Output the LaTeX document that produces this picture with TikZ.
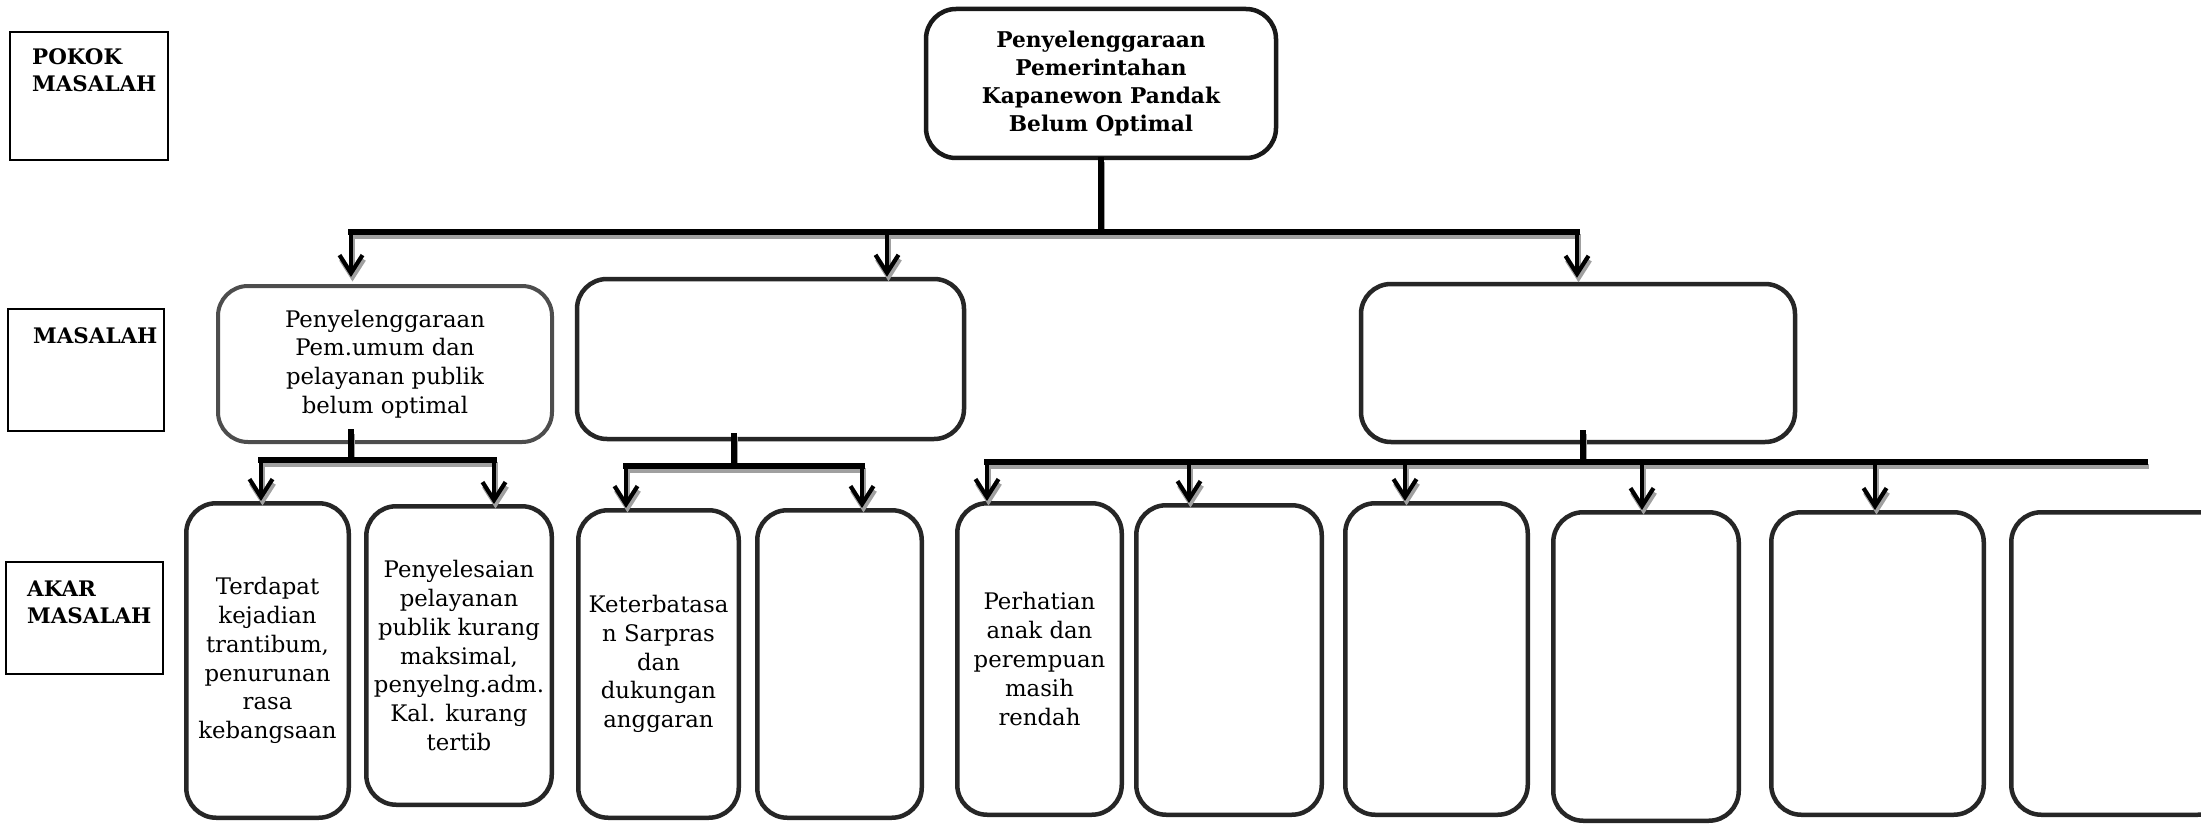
\documentclass[tikz,border=0pt]{standalone}
\usepackage{fontspec}
\setmainfont{DejaVu Serif}
\usetikzlibrary{arrows.meta}
\definecolor{edge}{HTML}{262626}
\definecolor{edgesoft}{HTML}{4D4D4D}
\definecolor{shade}{HTML}{A0A0A0}
\tikzset{
  frame/.style={draw=black, line width=2pt, inner sep=0pt},
  tag/.style={font=\fontsize{21.4}{27}\selectfont\bfseries, align=left, inner sep=0pt, anchor=base west},
  card/.style={draw=edge, line width=4.5pt, rounded corners=30pt, inner sep=0pt, align=center,
               font=\fontsize{22.8}{28.8}\selectfont},
  ink/.style={draw=black},
  link/.style={ink, line width=5.5pt, line cap=rect},
  arrowlink/.style={link, line width=4.2pt, -{Straight Barb[length=18pt,width=23pt]}},
}
% every connector of the tree; drawn once as a grey shadow and once in black
\newcommand\treelinks{%
  \draw[link] (root.south) -- (root.south |- h0L);
  \draw[link] (h0L) -- (h0R);
  \draw[arrowlink, shorten >=7pt] (h0L) -- (h0L |- m1.north);
  \draw[arrowlink] (h0M) -- (h0M |- m2.north);
  \draw[arrowlink, shorten >=4pt] (h0R) -- (h0R |- m3.north);
  \draw[link] (h1M |- m1.south) ++(0,-12) -- (h1M);
  \draw[link] (h1L) -- (h1R);
  \draw[arrowlink] (h1L) -- (h1L |- a1.north);
  \draw[arrowlink] (h1R) -- (h1R |- a2.north);
  \draw[link] (h2M |- m2.south) ++(0,-6) -- (h2M);
  \draw[link] (h2L) -- (h2R);
  \draw[arrowlink] (h2L) -- (h2L |- a3.north);
  \draw[arrowlink] (h2R) -- (h2R |- a4.north);
  \draw[link] (h3M |- m3.south) ++(0,-12) -- (h3M);
  \draw[link] (h3L) -- (h3R);
  \draw[arrowlink] (h3L) -- (h3L |- a5.north);
  \draw[arrowlink] (h3b) -- (h3b |- a6.north);
  \draw[arrowlink] (h3c) -- (h3c |- a7.north);
  \draw[arrowlink] (h3d) -- (h3d |- a8.north);
  \draw[arrowlink] (h3e) -- (h3e |- a9.north);
}
\begin{document}
\begin{tikzpicture}[x=1pt,y=-1pt]
\useasboundingbox (0,0) rectangle (2201,824);
\fill[white] (0,0) rectangle (2201,824);

% row labels (the base of a two-line tag is its last line)
\node[frame, minimum width=158pt, minimum height=128pt] (fpokok) at (89,96) {};
\node[tag] (tpokok) at (32,92) {POKOK\\MASALAH};
\node[frame, minimum width=156pt, minimum height=122pt] (fmasalah) at (86,370) {};
\node[tag] (tmasalah) at (33,343) {MASALAH};
\node[frame, minimum width=157pt, minimum height=112pt] (fakar) at (84.5,618) {};
\node[tag] (takar) at (27,623) {AKAR\\MASALAH};

% main problem
\node[card, draw=black!90, font=\fontsize{21.7}{28.3}\selectfont\bfseries,
      minimum width=350pt, minimum height=149pt] (root) at (1101,83.5)
  {Penyelenggaraan\\Pemerintahan\\Kapanewon Pandak\\Belum Optimal};

% problems
\node[card, draw=edgesoft, line width=4pt, minimum width=334pt, minimum height=156pt] (m1) at (385,364)
  {Penyelenggaraan\\Pem.umum dan\\pelayanan publik\\belum optimal};
\node[card, minimum width=387pt, minimum height=160pt] (m2) at (770.5,359) {};
\node[card, minimum width=434pt, minimum height=158pt] (m3) at (1578,363) {};

% root causes
\node[card, minimum width=162.5pt, minimum height=314.5pt] (a1) at (267.5,660.5)
  {Terdapat\\kejadian\\trantibum,\\penurunan\\rasa\\kebangsaan};
\node[card, minimum width=185.5pt, minimum height=298.5pt] (a2) at (459,655.5)
  {Penyelesaian\\pelayanan\\publik kurang\\maksimal,\\penyelng.adm.\\Kal. kurang\\tertib};
\node[card, minimum width=160.5pt, minimum height=307.5pt] (a3) at (658.5,664)
  {Keterbatasa\\n Sarpras\\dan\\dukungan\\anggaran};
\node[card, minimum width=164.5pt, minimum height=307.5pt] (a4) at (839.5,664) {};
\node[card, minimum width=164.5pt, minimum height=311.5pt] (a5) at (1039.5,659)
  {Perhatian\\anak dan\\perempuan\\masih\\rendah};
\node[card, minimum width=185.5pt, minimum height=309.5pt] (a6) at (1229,660) {};
\node[card, minimum width=182.5pt, minimum height=311.5pt] (a7) at (1436.5,659) {};
\node[card, minimum width=185.5pt, minimum height=308.5pt] (a8) at (1646,666.5) {};
\node[card, minimum width=212.5pt, minimum height=302.5pt] (a9) at (1877.5,663.5) {};
\node[card, minimum width=216.5pt, minimum height=302.5pt] (a10) at (2119.5,663.5) {};

% junction points of the connector bars
\coordinate (h0L) at (351,232);
\coordinate (h0M) at (887,232);
\coordinate (h0R) at (1577,232);
\coordinate (h1L) at (261,460);
\coordinate (h1M) at (351,460);
\coordinate (h1R) at (494,460);
\coordinate (h2L) at (626,466);
\coordinate (h2M) at (734,466);
\coordinate (h2R) at (862,466);
\coordinate (h3L) at (987,462);
\coordinate (h3M) at (1583,462);
\coordinate (h3R) at (2145,462);
\coordinate (h3b) at (1189,462);
\coordinate (h3c) at (1405,462);
\coordinate (h3d) at (1642,462);
\coordinate (h3e) at (1875,462);

% connectors: soft grey shadow first, then the black lines
\begin{scope}[transform canvas={shift={(1.5pt,-4.5pt)}}, ink/.style={draw=shade}]
  \treelinks
\end{scope}
\treelinks
\end{tikzpicture}
\end{document}
